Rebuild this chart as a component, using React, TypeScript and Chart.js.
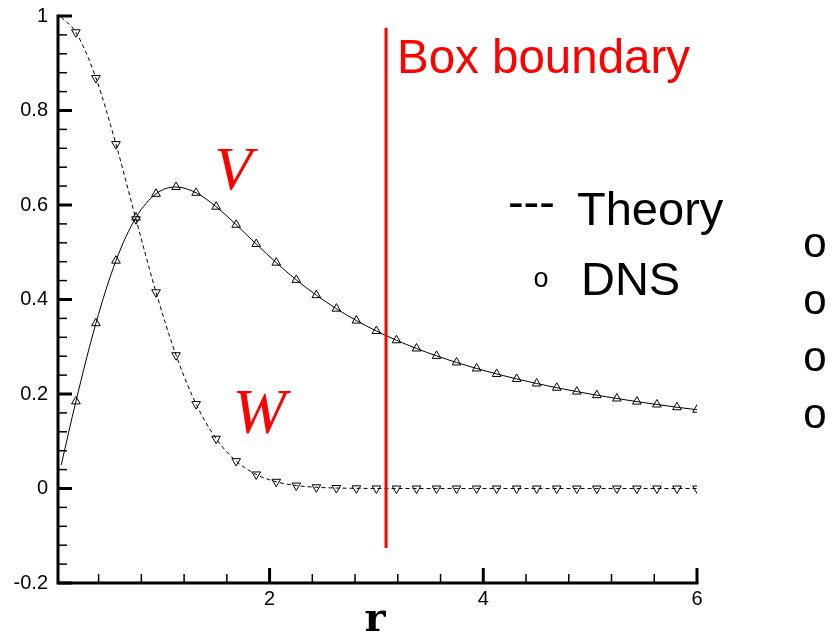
import { useEffect, useRef } from "react";
import { Chart, registerables } from "chart.js";

Chart.register(...registerables);

// Radial stations of the DNS samples
const rDns = [
  0.1875, 0.375, 0.5625, 0.75, 0.9375, 1.125, 1.3125, 1.5, 1.6875, 1.875, 2.0625,
  2.25, 2.4375, 2.625, 2.8125, 3.0, 3.1875, 3.375, 3.5625, 3.75, 3.9375, 4.125,
  4.3125, 4.5, 4.6875, 4.875, 5.0625, 5.25, 5.4375, 5.625, 5.8125, 6.0,
];

// Azimuthal velocity V (DNS)
const vDns = [
  0.1843, 0.3498, 0.4822, 0.5736, 0.6237, 0.6382, 0.6258, 0.5964, 0.5582, 0.5175,
  0.478, 0.4416, 0.4092, 0.3806, 0.3554, 0.3333, 0.3137, 0.2963, 0.2807, 0.2667,
  0.254, 0.2424, 0.2319, 0.2222, 0.2133, 0.2051, 0.1975, 0.1905, 0.1839, 0.1778,
  0.172, 0.1667,
];

// Axial velocity W (DNS)
const wDns = [
  0.9655, 0.8688, 0.7288, 0.5698, 0.4153, 0.2821, 0.1786, 0.1054, 0.058, 0.0297,
  0.0142, 0.0063, 0.0026, 0.001, 0.0004, 0.0001, 0, 0, 0, 0, 0, 0, 0, 0, 0, 0, 0,
  0, 0, 0, 0, 0,
];

// Theory curves
const rTheory = [
  0.05, 0.1875, 0.375, 0.5625, 0.75, 0.9375, 1.125, 1.3125, 1.5, 1.6875, 1.875,
  2.0625, 2.25, 2.4375, 2.625, 2.8125, 3.0, 3.1875, 3.375, 3.5625, 3.75, 3.9375,
  4.125, 4.3125, 4.5, 4.6875, 4.875, 5.0625, 5.25, 5.4375, 5.625, 5.8125, 6.0,
];
const vTheory = [
  0.0499, 0.1843, 0.3498, 0.4822, 0.5736, 0.6237, 0.6382, 0.6258, 0.5964, 0.5582,
  0.5175, 0.478, 0.4416, 0.4092, 0.3806, 0.3554, 0.3333, 0.3137, 0.2963, 0.2807,
  0.2667, 0.254, 0.2424, 0.2319, 0.2222, 0.2133, 0.2051, 0.1975, 0.1905, 0.1839,
  0.1778, 0.172, 0.1667,
];
const wTheory = [
  0.9975, 0.9655, 0.8688, 0.7288, 0.5698, 0.4153, 0.2821, 0.1786, 0.1054, 0.058,
  0.0297, 0.0142, 0.0063, 0.0026, 0.001, 0.0004, 0.0001, 0, 0, 0, 0, 0, 0, 0, 0,
  0, 0, 0, 0, 0, 0, 0, 0,
];

// Computational box edge
const boxBoundaryR = 3.09;
const boxLineExtent = [-0.126, 0.975];

const xTickValues = [2, 4, 6];
const yTickValues = [-0.2, 0, 0.2, 0.4, 0.6, 0.8, 1];

const SANS = '"Liberation Sans", Arial, sans-serif';
const SERIF = '"Liberation Serif", "Times New Roman", serif';
const SLAB = '"DejaVu Serif", "Courier New", serif';

// Tecplot-style frame: thick left/bottom axes with inward major/minor ticks
const framePlugin = {
  id: "frame",
  afterDraw(chart: any) {
    const { ctx, chartArea: a, scales } = chart;
    const x = scales.x;
    const y = scales.y;
    const seg = (x1: number, y1: number, x2: number, y2: number) => {
      ctx.beginPath();
      ctx.moveTo(x1, y1);
      ctx.lineTo(x2, y2);
      ctx.stroke();
    };
    ctx.save();
    ctx.strokeStyle = "#000";
    ctx.lineCap = "butt";

    ctx.lineWidth = 1.5;
    for (let i = 1; i < 30; i++) {
      if (i % 5 === 0) continue;
      const py = y.getPixelForValue(-0.2 + i * 0.04);
      seg(a.left, py, a.left + 9, py);
    }
    for (let i = 1; i < 15; i++) {
      if (i % 5 === 0) continue;
      const px = x.getPixelForValue(i * 0.4);
      seg(px, a.bottom, px, a.bottom - 9);
    }

    ctx.lineWidth = 3;
    yTickValues.forEach((v) => {
      const py = y.getPixelForValue(v);
      seg(a.left, py, a.left + 14, py);
    });
    xTickValues.forEach((v) => {
      const px = x.getPixelForValue(v);
      seg(px, a.bottom, px, a.bottom - 15);
    });

    ctx.lineCap = "square";
    ctx.beginPath();
    ctx.moveTo(a.left, a.top);
    ctx.lineTo(a.left, a.bottom);
    ctx.lineTo(x.getPixelForValue(6), a.bottom);
    ctx.stroke();
    ctx.restore();
  },
};

type Note = {
  text: string;
  r: number;
  v: number;
  font: string;
  color: string;
  align: CanvasTextAlign;
};

const notes: Note[] = [
  { text: "Box boundary", r: 3.192, v: 0.88, font: `47.5px ${SANS}`, color: "#ff0000", align: "left" },
  { text: "V", r: 1.66, v: 0.634, font: `italic 62px ${SERIF}`, color: "#ff0000", align: "center" },
  { text: "W", r: 1.905, v: 0.1185, font: `italic 64px ${SERIF}`, color: "#ff0000", align: "center" },
  { text: "---", r: 4.231, v: 0.5733, font: `47px ${SANS}`, color: "#000", align: "left" },
  { text: "Theory", r: 4.877, v: 0.5577, font: `47px ${SANS}`, color: "#000", align: "left" },
  { text: "o", r: 4.54, v: 0.4265, font: `27px ${SANS}`, color: "#000", align: "center" },
  { text: "DNS", r: 4.914, v: 0.4095, font: `47px ${SANS}`, color: "#000", align: "left" },
  { text: "o", r: 7.104, v: 0.4899, font: `42px ${SANS}`, color: "#000", align: "center" },
  { text: "o", r: 7.104, v: 0.3693, font: `42px ${SANS}`, color: "#000", align: "center" },
  { text: "o", r: 7.104, v: 0.2487, font: `42px ${SANS}`, color: "#000", align: "center" },
  { text: "o", r: 7.104, v: 0.128, font: `42px ${SANS}`, color: "#000", align: "center" },
  { text: "r", r: 2.986, v: -0.3016, font: `bold 40px ${SLAB}`, color: "#000", align: "center" },
];

const notesPlugin = {
  id: "notes",
  afterDraw(chart: any) {
    const { ctx, scales } = chart;
    ctx.save();
    ctx.textBaseline = "alphabetic";
    notes.forEach((n) => {
      ctx.font = n.font;
      ctx.fillStyle = n.color;
      ctx.textAlign = n.align;
      ctx.fillText(n.text, scales.x.getPixelForValue(n.r), scales.y.getPixelForValue(n.v));
    });
    ctx.restore();
  },
};

export default function App() {
  const canvasRef = useRef<HTMLCanvasElement | null>(null);

  useEffect(() => {
    const canvas = canvasRef.current;
    if (!canvas) return;
    const pts = (xs: number[], ys: number[]) => xs.map((r, i) => ({ x: r, y: ys[i] }));

    const chart = new Chart(canvas, {
      type: "line",
      data: {
        datasets: [
          {
            label: "Box boundary",
            data: boxLineExtent.map((v) => ({ x: boxBoundaryR, y: v })),
            borderColor: "#ff0000",
            borderWidth: 3,
            pointRadius: 0,
            fill: false,
          },
          {
            label: "V DNS",
            data: pts(rDns, vDns),
            showLine: false,
            pointStyle: "triangle",
            pointRadius: 5,
            borderWidth: 1,
            borderColor: "#000",
            pointBackgroundColor: "rgba(0,0,0,0)",
          },
          {
            label: "W DNS",
            data: pts(rDns, wDns),
            showLine: false,
            pointStyle: "triangle",
            pointRotation: 180,
            pointRadius: 5,
            borderWidth: 1,
            borderColor: "#000",
            pointBackgroundColor: "rgba(0,0,0,0)",
          },
          {
            label: "V Theory",
            data: pts(rTheory, vTheory),
            borderColor: "#000",
            borderWidth: 1,
            pointRadius: 0,
            cubicInterpolationMode: "monotone",
            fill: false,
          },
          {
            label: "W Theory",
            data: pts(rTheory, wTheory),
            borderColor: "#000",
            borderWidth: 1,
            borderDash: [4, 3],
            pointRadius: 0,
            cubicInterpolationMode: "monotone",
            fill: false,
          },
        ],
      },
      options: {
        animation: false,
        responsive: false,
        devicePixelRatio: 1,
        layout: { padding: { left: 0, top: 16, right: 137, bottom: 0 } },
        plugins: { legend: { display: false }, tooltip: { enabled: false } },
        events: [],
        scales: {
          x: {
            type: "linear",
            min: 0.02,
            max: 6,
            grid: { display: false, drawTicks: false },
            border: { display: false },
            afterBuildTicks: (s: any) => {
              s.ticks = xTickValues.map((v) => ({ value: v }));
            },
            afterFit: (s: any) => {
              s.height = 54;
              s.paddingLeft = 0;
              s.paddingRight = 0;
            },
            ticks: {
              padding: 4,
              color: "#000",
              font: { family: SANS, size: 20 },
              maxRotation: 0,
              autoSkip: false,
              callback: (v: any) => String(v),
            },
          },
          y: {
            type: "linear",
            min: -0.2,
            max: 1,
            grid: { display: false, drawTicks: false },
            border: { display: false },
            afterBuildTicks: (s: any) => {
              s.ticks = yTickValues.map((v) => ({ value: v }));
            },
            afterFit: (s: any) => {
              s.width = 58;
              s.paddingTop = 0;
              s.paddingBottom = 0;
            },
            ticks: {
              padding: 10,
              color: "#000",
              font: { family: SANS, size: 20 },
              autoSkip: false,
              callback: (v: any) => String(Math.round(Number(v) * 10) / 10),
            },
          },
        },
      },
      plugins: [framePlugin, notesPlugin],
    } as any);

    return () => chart.destroy();
  }, []);

  return (
    <div style={{ position: "absolute", left: 0, top: 0, width: 834, height: 637, background: "#fff" }}>
      <canvas ref={canvasRef} width={834} height={637} />
    </div>
  );
}
